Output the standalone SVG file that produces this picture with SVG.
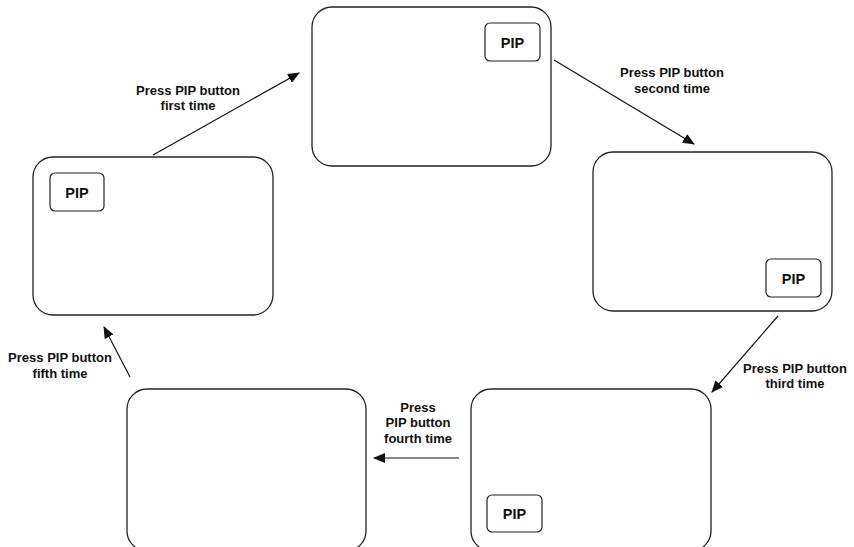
<svg xmlns="http://www.w3.org/2000/svg" width="854" height="547" viewBox="0 0 854 547">
<defs>
<style>
.box{fill:#fff;stroke:#222;stroke-width:1.3}
.pip{fill:#fff;stroke:#222;stroke-width:1.2}
.pt{font-family:"Liberation Sans",Arial,sans-serif;font-weight:bold;font-size:14.5px;fill:#111;text-anchor:middle}
.lbl{font-family:"Liberation Sans",Arial,sans-serif;font-weight:bold;font-size:13px;fill:#111;text-anchor:middle}
.conn{stroke:#111;stroke-width:1.2;fill:none;marker-end:url(#ah)}
</style>
<marker id="ah" markerUnits="userSpaceOnUse" markerWidth="12" markerHeight="10" refX="11" refY="5" orient="auto">
<path d="M0,0 L12,5 L0,10 Z" fill="#111"/>
</marker>
</defs>
<rect width="854" height="547" fill="#fff"/>
<g id="screen-top">
<rect class="box" x="312" y="7" width="239" height="159" rx="20"/>
<rect class="pip" x="485" y="23" width="55" height="38" rx="5"/>
<text class="pt" x="512.5" y="47.5">PIP</text>
</g>
<g id="screen-left">
<rect class="box" x="33" y="157" width="240" height="158" rx="20"/>
<rect class="pip" x="50" y="173" width="54" height="38" rx="5"/>
<text class="pt" x="77" y="197.5">PIP</text>
</g>
<g id="screen-right">
<rect class="box" x="593" y="152" width="239" height="159" rx="20"/>
<rect class="pip" x="766" y="259" width="55" height="38" rx="5"/>
<text class="pt" x="793.5" y="283.5">PIP</text>
</g>
<g id="screen-bottom-right">
<rect class="box" x="471" y="389" width="240" height="162" rx="20"/>
<rect class="pip" x="487" y="495" width="55" height="37" rx="5"/>
<text class="pt" x="514.5" y="519">PIP</text>
</g>
<g id="screen-bottom-left">
<rect class="box" x="127" y="389" width="239" height="162" rx="20"/>
</g>
<g id="connectors">
<line class="conn" x1="153" y1="155" x2="299" y2="73"/>
<line class="conn" x1="554" y1="60" x2="694" y2="144"/>
<line class="conn" x1="778" y1="316" x2="712" y2="392"/>
<line class="conn" x1="459" y1="458" x2="374" y2="458"/>
<line class="conn" x1="130" y1="377" x2="104" y2="327"/>
</g>
<g id="labels">
<text class="lbl" x="188" y="95">Press PIP button</text>
<text class="lbl" x="188" y="110">first time</text>
<text class="lbl" x="672" y="77">Press PIP button</text>
<text class="lbl" x="672" y="93">second time</text>
<text class="lbl" x="795" y="373">Press PIP button</text>
<text class="lbl" x="795" y="388">third time</text>
<text class="lbl" x="418" y="412">Press</text>
<text class="lbl" x="418" y="427">PIP button</text>
<text class="lbl" x="418" y="443">fourth time</text>
<text class="lbl" x="60" y="362">Press PIP button</text>
<text class="lbl" x="60" y="378">fifth time</text>
</g>
</svg>
